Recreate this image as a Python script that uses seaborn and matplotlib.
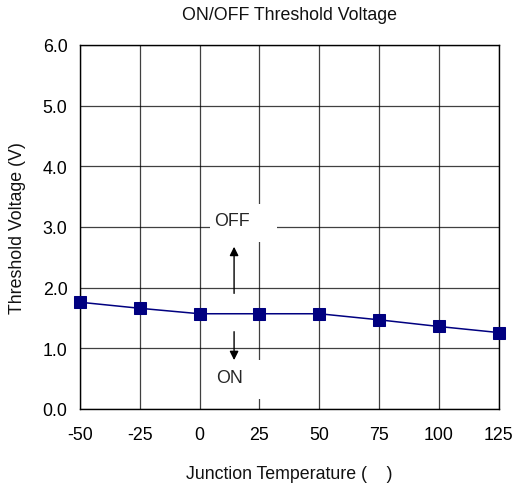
import matplotlib
matplotlib.use("Agg")
import matplotlib.pyplot as plt
import seaborn as sns
import pandas as pd
from matplotlib.patches import Rectangle

# Data
temperature = [-50, -25, 0, 25, 50, 75, 100, 125]
threshold_v = [1.76, 1.66, 1.57, 1.57, 1.57, 1.47, 1.36, 1.26]
x_ticks = [-50, -25, 0, 25, 50, 75, 100, 125]
y_ticks = [0.0, 1.0, 2.0, 3.0, 4.0, 5.0, 6.0]

df = pd.DataFrame({"temp": temperature, "vth": threshold_v})

sns.set_theme(style="white")
plt.rcParams['font.family'] = ['Liberation Sans', 'DejaVu Sans']
FS = 12.8

fig = plt.figure(figsize=(5.13, 4.89), dpi=100)
ax = fig.add_axes([80/513, 1 - 410/489, 418.7/513, 364/489])

sns.lineplot(data=df, x="temp", y="vth", ax=ax, color="#000080", linewidth=1.1,
             marker="s", markersize=9.2, markeredgecolor="#000080",
             markerfacecolor="#000080", zorder=5, clip_on=False)

ax.set_xlim(-50, 125)
ax.set_ylim(0, 6)
ax.set_xticks(x_ticks)
ax.set_yticks(y_ticks)
ax.set_xticklabels([str(t) for t in x_ticks], fontsize=FS)
ax.set_yticklabels([f"{v:.1f}" for v in y_ticks], fontsize=FS)
ax.tick_params(axis="x", length=0, pad=12, colors="black")
ax.tick_params(axis="y", length=0, pad=9, colors="black")
ax.grid(True, color="black", linewidth=0.9, alpha=0.75)
for s in ax.spines.values():
    s.set_color("black")
    s.set_linewidth(1.0)

ax.set_xlabel("Junction Temperature (    )", fontsize=FS, labelpad=16, color="#111111")
ax.set_ylabel("Threshold Voltage (V)", fontsize=FS, labelpad=12, color="#111111")
fig.text(289/513, 1 - 15/489, "ON/OFF Threshold Voltage", ha="center", va="center",
         fontsize=FS, color="#111111")

# white boxes hiding the grid behind the annotations
ax.add_patch(Rectangle((4.3, 2.75), 28.0, 0.63, facecolor="white", edgecolor="none", zorder=3))
ax.add_patch(Rectangle((4.3, 0.165), 28.0, 0.645, facecolor="white", edgecolor="none", zorder=3))

ax.text(13.5, 3.11, "OFF", ha="center", va="center", fontsize=FS, zorder=6)
ax.text(12.5, 0.52, "ON", ha="center", va="center", fontsize=FS, zorder=6)
ax.annotate("", xy=(14.4, 2.72), xytext=(14.4, 1.86),
            arrowprops=dict(arrowstyle="-|>", color="black", lw=1.0, mutation_scale=13), zorder=6)
ax.annotate("", xy=(14.4, 0.76), xytext=(14.4, 1.32),
            arrowprops=dict(arrowstyle="-|>", color="black", lw=1.0, mutation_scale=13), zorder=6)

fig.savefig("out.png", dpi=100)
